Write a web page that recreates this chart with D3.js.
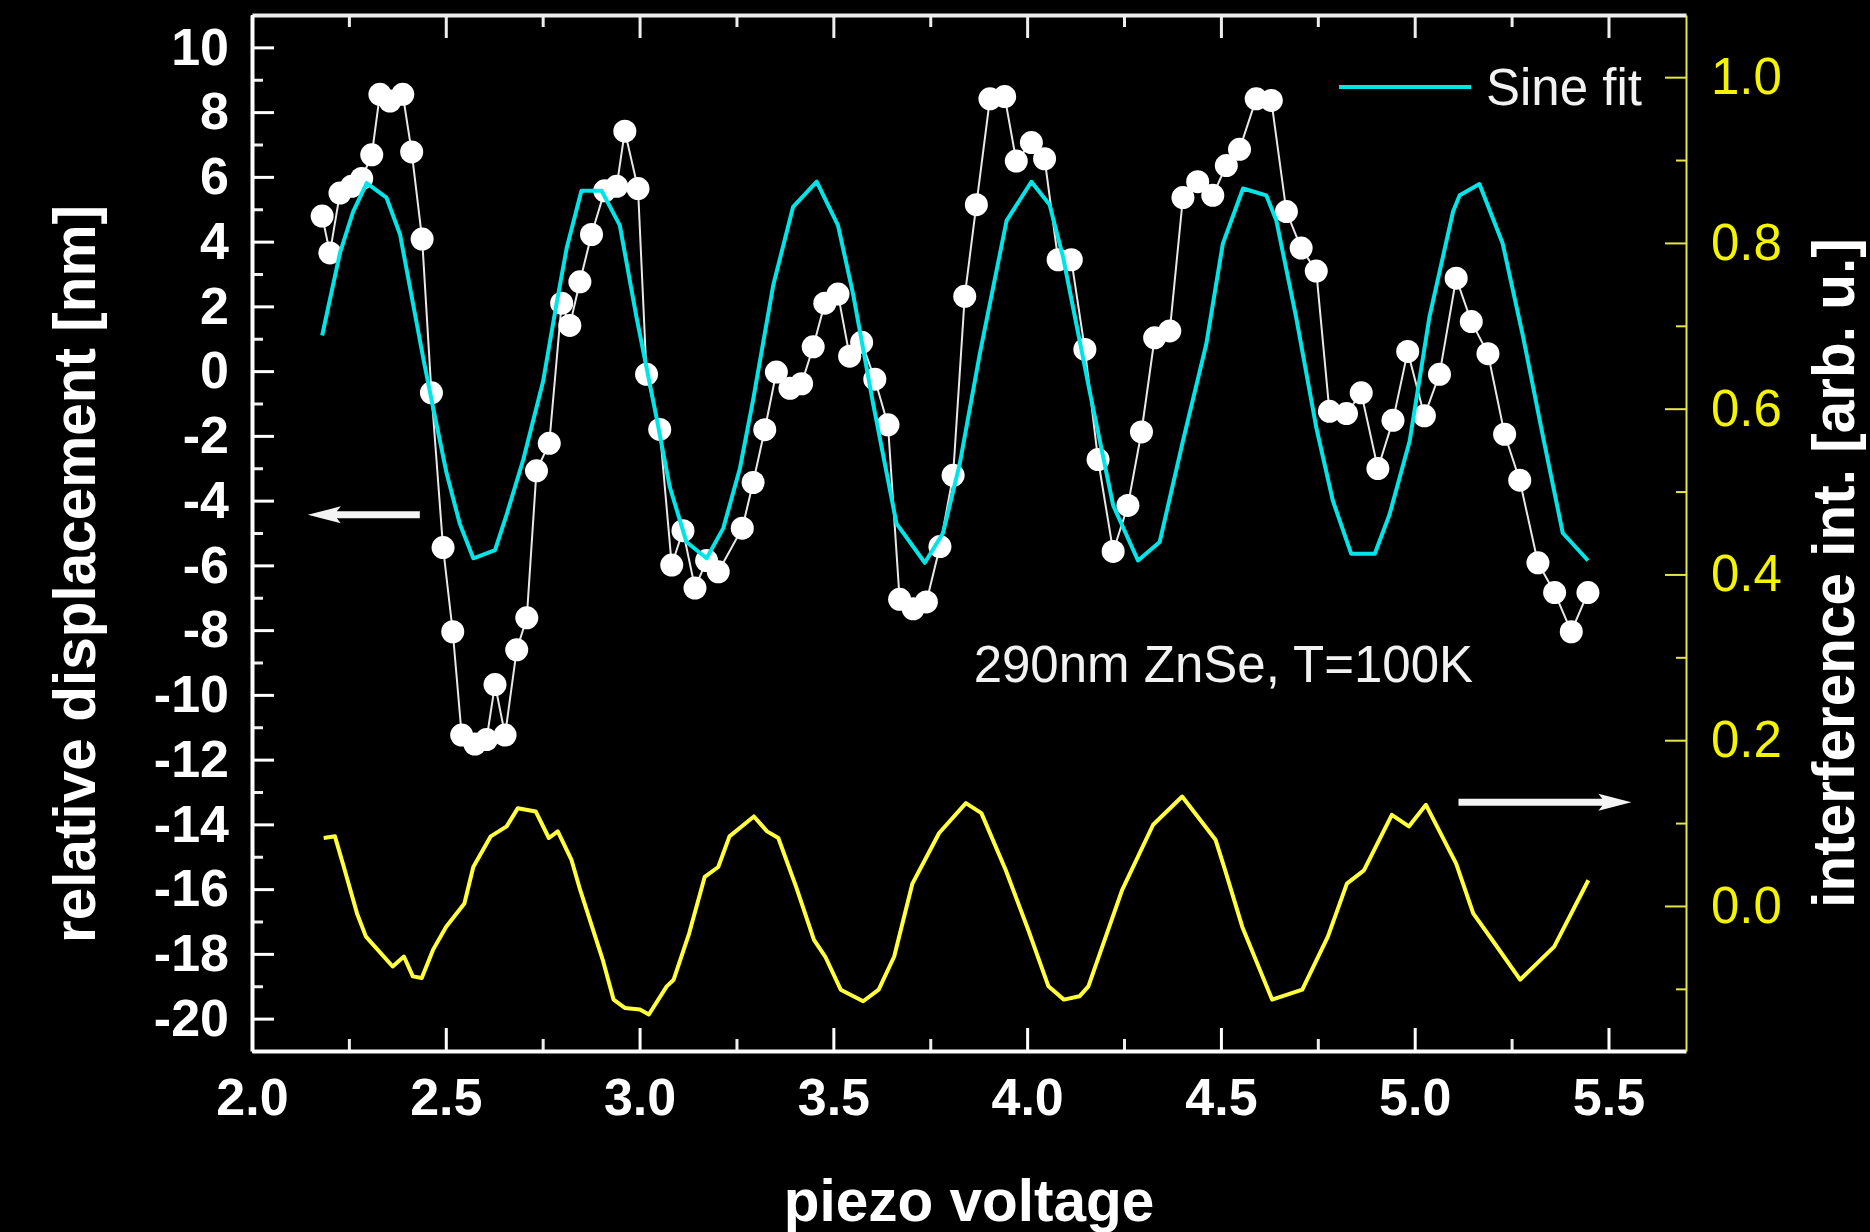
<!DOCTYPE html>
<html>
<head>
<meta charset="utf-8">
<script src="https://cdn.jsdelivr.net/npm/d3@7"></script>
<style>
  html, body { margin: 0; padding: 0; background: #000; }
  #chart { width: 1870px; height: 1232px; overflow: hidden; }
</style>
</head>
<body>
<div id="chart"></div>
<script>
// relative displacement (white dots), left axis
var dispVoltage = [2.181,2.201,2.227,2.257,2.283,2.309,2.330,2.356,2.389,2.412,2.439,2.463,2.493,2.518,2.541,2.575,2.605,2.627,2.653,2.683,
                   2.709,2.734,2.767,2.799,2.820,2.846,2.876,2.910,2.941,2.962,2.996,3.018,3.052,3.083,3.112,3.143,3.173,3.203,3.265,3.293,
                   3.323,3.353,3.388,3.418,3.448,3.478,3.512,3.542,3.573,3.607,3.641,3.671,3.706,3.740,3.775,3.809,3.839,3.869,3.904,3.942,
                   3.972,4.011,4.045,4.080,4.114,4.149,4.183,4.222,4.260,4.295,4.329,4.368,4.402,4.440,4.479,4.514,4.548,4.591,4.630,4.669,
                   4.707,4.746,4.780,4.824,4.862,4.905,4.944,4.982,5.025,5.064,5.107,5.146,5.189,5.232,5.271,5.318,5.361,5.404,5.447];
var dispNm      = [4.79,3.65,5.50,5.71,5.95,6.68,8.55,8.34,8.55,6.77,4.08,-0.67,-5.45,-8.05,-11.24,-11.52,-11.38,-9.68,-11.24,-8.61,
                   -7.62,-3.08,-2.23,2.10,1.41,2.76,4.22,5.57,5.71,7.41,5.64,-0.10,-1.80,-5.99,-4.93,-6.70,-5.85,-6.20,-4.85,-3.44,
                   -1.81,-0.03,-0.53,-0.39,0.75,2.10,2.38,0.46,0.89,-0.25,-1.66,-7.05,-7.34,-7.13,-5.42,-3.22,2.31,5.14,8.41,8.48,
                   6.49,7.06,6.56,3.44,3.44,0.67,-2.73,-5.57,-4.15,-1.88,1.03,1.24,5.36,5.85,5.43,6.35,6.85,8.41,8.36,4.93,
                   3.80,3.09,-1.24,-1.31,-0.67,-3.01,-1.52,0.61,-1.38,-0.10,2.87,1.53,0.54,-1.95,-3.37,-5.92,-6.84,-8.05,-6.84];

// sine fit (cyan), left axis
var fitVoltage = [2.181,2.227,2.261,2.296,2.347,2.382,2.442,2.468,2.502,2.536,2.571,2.627,2.657,2.700,2.751,2.786,2.812,2.850,2.902,2.949,
                  2.992,3.044,3.078,3.121,3.173,3.216,3.259,3.293,3.345,3.396,3.457,3.512,3.551,3.603,3.663,3.736,3.783,3.826,3.878,3.947,
                  4.011,4.058,4.093,4.161,4.222,4.286,4.342,4.402,4.462,4.505,4.557,4.617,4.643,4.694,4.746,4.789,4.836,4.897,4.935,4.987,
                  5.038,5.099,5.116,5.167,5.227,5.279,5.331,5.382,5.447];
var fitNm      = [1.10,3.65,4.93,5.81,5.36,4.22,0.39,-1.17,-3.15,-4.71,-5.78,-5.53,-4.43,-2.73,-0.32,2.10,3.80,5.57,5.57,4.50,
                  1.67,-1.45,-3.58,-5.28,-5.78,-4.85,-3.00,-0.89,2.66,5.07,5.85,4.50,2.38,-1.03,-4.71,-5.92,-5.00,-2.87,0.54,4.65,
                  5.85,5.14,3.51,-0.60,-4.15,-5.85,-5.28,-2.16,0.82,3.94,5.64,5.43,4.65,1.67,-1.74,-4.01,-5.64,-5.64,-4.43,-2.16,
                  1.67,4.93,5.43,5.78,3.94,1.10,-2.02,-5.00,-5.85];

// interference intensity (yellow), right axis
var intVoltage = [2.185,2.214,2.237,2.271,2.294,2.363,2.392,2.415,2.438,2.467,2.501,2.548,2.571,2.616,2.657,2.686,2.732,2.766,2.789,2.824,
                  2.847,2.905,2.933,2.962,3.001,3.024,3.070,3.088,3.128,3.168,3.203,3.232,3.295,3.329,3.358,3.404,3.450,3.479,3.519,3.577,
                  3.617,3.657,3.704,3.773,3.842,3.882,3.945,4.003,4.055,4.095,4.135,4.158,4.245,4.325,4.400,4.486,4.511,4.555,4.632,4.710,
                  4.776,4.825,4.869,4.941,4.985,5.029,5.107,5.151,5.206,5.272,5.360,5.448];
var intArb     = [0.082,0.084,0.047,-0.009,-0.037,-0.073,-0.061,-0.085,-0.087,-0.053,-0.025,0.003,0.047,0.084,0.096,0.118,0.114,0.082,0.090,0.056,
                  0.019,-0.065,-0.113,-0.123,-0.125,-0.131,-0.097,-0.089,-0.033,0.035,0.047,0.084,0.108,0.090,0.082,0.023,-0.041,-0.061,-0.101,-0.115,
                  -0.101,-0.061,0.027,0.088,0.124,0.112,0.043,-0.029,-0.097,-0.113,-0.109,-0.097,0.019,0.098,0.132,0.080,0.043,-0.025,-0.113,-0.101,
                  -0.037,0.027,0.043,0.110,0.096,0.122,0.051,-0.009,-0.045,-0.089,-0.049,0.031];

// tick values
var xTicks       = [2.0, 2.5, 3.0, 3.5, 4.0, 4.5, 5.0, 5.5];
var xMinorTicks  = [2.25, 2.75, 3.25, 3.75, 4.25, 4.75, 5.25];
var yLeftTicks   = [-20, -18, -16, -14, -12, -10, -8, -6, -4, -2, 0, 2, 4, 6, 8, 10];
var yLeftMinor   = [-21, -19, -17, -15, -13, -11, -9, -7, -5, -3, -1, 1, 3, 5, 7, 9];
var yRightTicks  = [0.0, 0.2, 0.4, 0.6, 0.8, 1.0];
var yRightMinor  = [-0.1, 0.1, 0.3, 0.5, 0.7, 0.9];

plot_interference_chart("#chart", 1870, 1232);


// Draw the whole figure: two y scales sharing one x scale
function plot_interference_chart (htmlObjectId, width, height) {

    var margin = {top: 15, right: 184, bottom: 181, left: 252};
    var fontStack = '"Liberation Sans", Arial, Helvetica, sans-serif';

    var x = d3.scaleLinear()
                .domain([2.0, 5.7])
                .range([margin.left, width - margin.right]);

    var yLeft = d3.scaleLinear()
                .domain([-21, 11])
                .range([height - margin.bottom, margin.top]);

    var yRight = d3.scaleLinear()
                .domain([-0.175, 1.075])
                .range([height - margin.bottom, margin.top]);

    var x0 = margin.left, x1 = width - margin.right;
    var y0 = height - margin.bottom, y1 = margin.top;

    // plain hyphen for negatives, like the original plot
    var intFormat = function(d) { return String(d); };
    var oneDecimal = function(d) { return d.toFixed(1); };

    var canvas = d3.select(htmlObjectId)
                    .append("svg")
                    .attr("width", width)
                    .attr("height", height)
                    .style("background", "#000");

    canvas.append("rect")
        .attr("width", width).attr("height", height)
        .attr("fill", "#000");

    // ---- axes ----
    function style_axis(g, color, domainWidth, tickWidth, fontSize, fontWeight) {
        g.attr("font-family", fontStack)
         .attr("font-size", fontSize)
         .attr("font-weight", fontWeight)
         .style("color", color);
        g.select(".domain").attr("stroke-width", domainWidth);
        g.selectAll(".tick line").attr("stroke-width", tickWidth);
        return g;
    }

    // minor ticks first so the main axis lines lie on top
    canvas.append("g")
        .attr("transform", "translate(0," + y0 + ")")
        .call(d3.axisBottom(x).tickValues(xMinorTicks).tickFormat("").tickSize(-12).tickSizeOuter(0))
        .call(function(g) { style_axis(g, "#eeeeee", 0, 3, 10, "normal"); g.select(".domain").remove(); });
    canvas.append("g")
        .attr("transform", "translate(0," + y1 + ")")
        .call(d3.axisTop(x).tickValues(xMinorTicks).tickFormat("").tickSize(-12).tickSizeOuter(0))
        .call(function(g) { style_axis(g, "#eeeeee", 0, 3, 10, "normal"); g.select(".domain").remove(); });
    canvas.append("g")
        .attr("transform", "translate(" + x0 + ",0)")
        .call(d3.axisLeft(yLeft).tickValues(yLeftMinor).tickFormat("").tickSize(-11).tickSizeOuter(0))
        .call(function(g) { style_axis(g, "#eeeeee", 0, 3, 10, "normal"); g.select(".domain").remove(); });
    canvas.append("g")
        .attr("transform", "translate(" + x1 + ",0)")
        .call(d3.axisRight(yRight).tickValues(yRightMinor).tickFormat("").tickSize(-10).tickSizeOuter(0))
        .call(function(g) { style_axis(g, "#e6e64a", 0, 2, 10, "normal"); g.select(".domain").remove(); });

    // top axis (no labels)
    canvas.append("g")
        .attr("class", "axis top")
        .attr("transform", "translate(0," + y1 + ")")
        .call(d3.axisTop(x).tickValues(xTicks).tickFormat("").tickSize(-23).tickSizeOuter(0))
        .call(function(g) { style_axis(g, "#eeeeee", 4, 3, 10, "normal"); });

    // bottom axis
    canvas.append("g")
        .attr("class", "axis x")
        .attr("transform", "translate(0," + y0 + ")")
        .call(d3.axisBottom(x).tickValues(xTicks).tickFormat(oneDecimal)
                .tickSize(-23).tickSizeOuter(0).tickPadding(27))
        .call(function(g) { style_axis(g, "#ffffff", 4, 3, 52, "bold"); });

    // left axis
    canvas.append("g")
        .attr("class", "axis y")
        .attr("transform", "translate(" + x0 + ",0)")
        .call(d3.axisLeft(yLeft).tickValues(yLeftTicks).tickFormat(intFormat)
                .tickSize(-22).tickSizeOuter(0).tickPadding(23))
        .call(function(g) { style_axis(g, "#ffffff", 4, 3, 52, "bold"); });

    // right axis, yellow
    canvas.append("g")
        .attr("class", "axis y2")
        .attr("transform", "translate(" + x1 + ",0)")
        .call(d3.axisRight(yRight).tickValues(yRightTicks).tickFormat(oneDecimal)
                .tickSize(-21).tickSizeOuter(0).tickPadding(25))
        .call(function(g) {
            style_axis(g, "#e6e64a", 2, 2, 51, "normal");
            g.selectAll(".tick text").attr("fill", "#f4f400");
        });

    // ---- series ----
    var intData  = intVoltage.map(function(v, i) { return [v, intArb[i]]; });
    var dispData = dispVoltage.map(function(v, i) { return [v, dispNm[i]]; });
    var fitData  = fitVoltage.map(function(v, i) { return [v, fitNm[i]]; });

    canvas.append("path")
        .datum(intData)
        .attr("fill", "none")
        .attr("stroke", "#ffff3c")
        .attr("stroke-width", 4)
        .attr("stroke-linejoin", "round")
        .attr("d", d3.line().x(function(d) { return x(d[0]); }).y(function(d) { return yRight(d[1]); }));

    canvas.append("path")
        .datum(dispData)
        .attr("fill", "none")
        .attr("stroke", "#e8e8e8")
        .attr("stroke-width", 2)
        .attr("d", d3.line().x(function(d) { return x(d[0]); }).y(function(d) { return yLeft(d[1]); }));

    canvas.selectAll("circle.dot")
        .data(dispData)
      .enter().append("circle")
        .attr("class", "dot")
        .attr("cx", function(d) { return x(d[0]); })
        .attr("cy", function(d) { return yLeft(d[1]); })
        .attr("r", 11.5)
        .attr("fill", "#ffffff");

    canvas.append("path")
        .datum(fitData)
        .attr("fill", "none")
        .attr("stroke", "#00e6e8")
        .attr("stroke-width", 4)
        .attr("stroke-linejoin", "round")
        .attr("d", d3.line().x(function(d) { return x(d[0]); }).y(function(d) { return yLeft(d[1]); }));

    // ---- annotations ----
    // arrows telling which axis a curve belongs to
    function draw_arrow(xa, xb, yy, pointLeft) {
        var tip = pointLeft ? xa : xb, tail = pointLeft ? xb : xa;
        var dir = pointLeft ? 1 : -1;
        var base = tip + dir * 33;
        var p = d3.path();
        p.moveTo(tip, yy);
        p.lineTo(base, yy - 8.5);
        p.lineTo(base - dir * 4, yy - 3.5);
        p.lineTo(tail, yy - 3.5);
        p.lineTo(tail, yy + 3.5);
        p.lineTo(base - dir * 4, yy + 3.5);
        p.lineTo(base, yy + 8.5);
        p.closePath();
        canvas.append("path").attr("d", p.toString()).attr("fill", "#f4f4f4");
    }
    draw_arrow(x(2.144), x(2.433), yLeft(-4.44), true);
    draw_arrow(x(5.113), x(5.559), yRight(0.125), false);

    canvas.append("text")
        .attr("x", x(3.862))
        .attr("y", yLeft(-9.6))
        .attr("font-family", fontStack)
        .attr("font-size", 51)
        .attr("fill", "#f2f2f2")
        .text("290nm ZnSe, T=100K");

    // legend
    canvas.append("line")
        .attr("x1", x1 - 347).attr("x2", x1 - 215)
        .attr("y1", 87).attr("y2", 87)
        .attr("stroke", "#00e6e8")
        .attr("stroke-width", 4);
    canvas.append("text")
        .attr("x", x1 - 200)
        .attr("y", 105)
        .attr("font-family", fontStack)
        .attr("font-size", 51)
        .attr("fill", "#f2f2f2")
        .text("Sine fit");

    // axis titles
    canvas.append("text")
        .attr("transform", "translate(95," + 574 + ") rotate(-90)")
        .attr("text-anchor", "middle")
        .attr("font-family", fontStack)
        .attr("font-size", 58.5)
        .attr("font-weight", "bold")
        .attr("fill", "#ffffff")
        .text("relative displacement [nm]");

    canvas.append("text")
        .attr("transform", "translate(1854," + 573 + ") rotate(-90)")
        .attr("text-anchor", "middle")
        .attr("font-family", fontStack)
        .attr("font-size", 58.5)
        .attr("font-weight", "bold")
        .attr("fill", "#ffffff")
        .text("interference int. [arb. u.]");

    canvas.append("text")
        .attr("x", (x0 + x1) / 2)
        .attr("y", 1221)
        .attr("text-anchor", "middle")
        .attr("font-family", fontStack)
        .attr("font-size", 58.5)
        .attr("font-weight", "bold")
        .attr("fill", "#ffffff")
        .text("piezo voltage");
}
</script>
</body>
</html>
